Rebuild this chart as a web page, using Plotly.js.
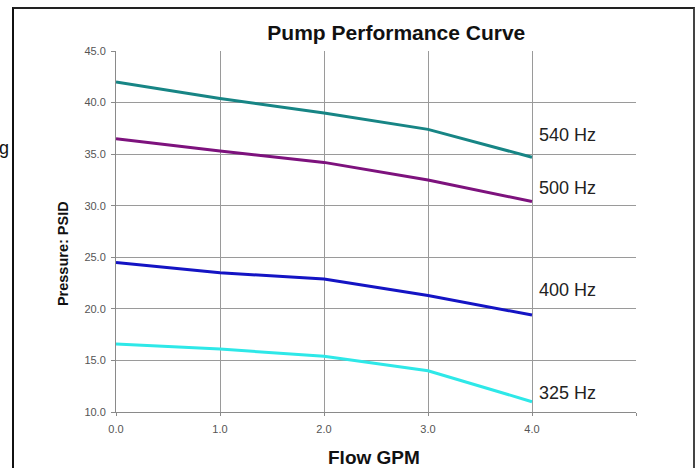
<!DOCTYPE html>
<html>
<head>
<meta charset="utf-8">
<script src="https://cdn.plot.ly/plotly-3.0.1.min.js"></script>
<style>
  html, body { margin: 0; padding: 0; background: #fff; }
  #wrap { position: relative; width: 699px; height: 468px; overflow: hidden; }
  #frame { position: absolute; left: 12px; top: 7px; width: 679px; height: 480px;
           border-left: 2px solid #111; border-top: 2px solid #222; border-right: 2px solid #444; }
  #chart { position: absolute; left: 0; top: 0; width: 699px; height: 468px; }
</style>
</head>
<body>
<div id="wrap">
  <div id="frame"></div>
  <div id="chart"></div>
</div>
<script>
// Flow (GPM)
const flow = [0, 1, 2, 3, 4];
// Pressure (PSID) by drive frequency
const p540 = [42.0, 40.4, 39.0, 37.4, 34.7];
const p500 = [36.5, 35.3, 34.2, 32.5, 30.4];
const p400 = [24.5, 23.5, 22.9, 21.3, 19.4];
const p325 = [16.6, 16.1, 15.4, 14.0, 11.0];
const seriesNames = ['540 Hz', '500 Hz', '400 Hz', '325 Hz'];
const xTickVals = [0, 1, 2, 3, 4, 5];
const xTickText = ['0.0', '1.0', '2.0', '3.0', '4.0', ''];
const yTickVals = [10, 15, 20, 25, 30, 35, 40, 45];
const yTickText = ['10.0', '15.0', '20.0', '25.0', '30.0', '35.0', '40.0', '45.0'];

const seriesData = [p540, p500, p400, p325];
const colors = ['#178585', '#7d127d', '#1414c4', '#2ee8e8'];

const traces = seriesData.map((ys, i) => ({
  x: flow, y: ys, type: 'scatter', mode: 'lines', name: seriesNames[i],
  line: { color: colors[i], width: 3 }, xaxis: 'x', yaxis: 'y'
}));

const FONT = 'Liberation Sans, Arial, sans-serif';
const tickFont = { family: FONT, size: 11, color: '#555' };

// label positions (data coordinates) for the series names
const labelY = [36.9, 31.7, 21.8, 11.8];
const annotations = seriesNames.map((n, i) => ({
  text: n, x: 4, y: labelY[i], xref: 'x', yref: 'y', xanchor: 'left', yanchor: 'middle',
  xshift: 5, showarrow: false,
  font: { family: FONT, size: 18, color: '#222' }
}));
annotations.push({
  text: 'Pressure: PSID', textangle: -90, xref: 'paper', yref: 'paper',
  x: -0.102, y: 0.44, xanchor: 'center', yanchor: 'middle', showarrow: false,
  font: { family: FONT, size: 14.5, color: '#111', weight: 'bold' }
});
annotations.push({
  text: 'Flow GPM', xref: 'paper', yref: 'paper', x: 0.497, y: -0.125,
  xanchor: 'center', yanchor: 'middle', showarrow: false,
  font: { family: FONT, size: 19, color: '#111', weight: 'bold' }
});
annotations.push({
  text: 'g', xref: 'paper', yref: 'paper', x: -0.215, y: 0.73,
  xanchor: 'center', yanchor: 'middle', showarrow: false,
  font: { family: FONT, size: 18, color: '#111' }
});

const layout = {
  width: 699, height: 468,
  margin: { l: 116, r: 63, t: 51, b: 56, pad: 0 },
  paper_bgcolor: 'rgba(0,0,0,0)', plot_bgcolor: 'rgba(0,0,0,0)',
  showlegend: false,
  title: {
    text: 'Pump Performance Curve', x: 0.567, xref: 'container', xanchor: 'center',
    y: 0.93, yref: 'container', yanchor: 'middle',
    font: { family: FONT, size: 21, color: '#111', weight: 'bold' }
  },
  xaxis: {
    range: [0, 5], tickvals: xTickVals, ticktext: xTickText, tickfont: tickFont,
    showgrid: false, zeroline: false, showline: true, linecolor: '#8a8a8a', linewidth: 1,
    ticks: 'outside', ticklen: 3, tickcolor: '#8a8a8a', ticklabelstandoff: 4
  },
  yaxis: {
    range: [10, 45], tickvals: yTickVals, ticktext: yTickText, tickfont: tickFont,
    showgrid: false, zeroline: false, showline: true, linecolor: '#8a8a8a', linewidth: 1,
    ticks: 'outside', ticklen: 4, tickcolor: '#8a8a8a', ticklabelstandoff: 3
  },
  xaxis2: {
    overlaying: 'x', range: [0, 5], tickvals: [1, 2, 3, 4], showticklabels: false,
    showgrid: true, gridcolor: '#9a9a9a', gridwidth: 1, zeroline: false, showline: false, ticks: ''
  },
  yaxis2: {
    overlaying: 'y', range: [10, 45], tickvals: [15, 20, 25, 30, 35, 40], showticklabels: false,
    showgrid: true, gridcolor: '#9a9a9a', gridwidth: 1, zeroline: false, showline: false, ticks: ''
  },
  annotations: annotations
};

// invisible trace so the grid axes are drawn
traces.unshift({ x: [0], y: [10], xaxis: 'x2', yaxis: 'y2', mode: 'markers',
  marker: { opacity: 0 }, hoverinfo: 'skip', type: 'scatter' });

Plotly.newPlot('chart', traces, layout, { displayModeBar: false, staticPlot: true });
</script>
</body>
</html>
